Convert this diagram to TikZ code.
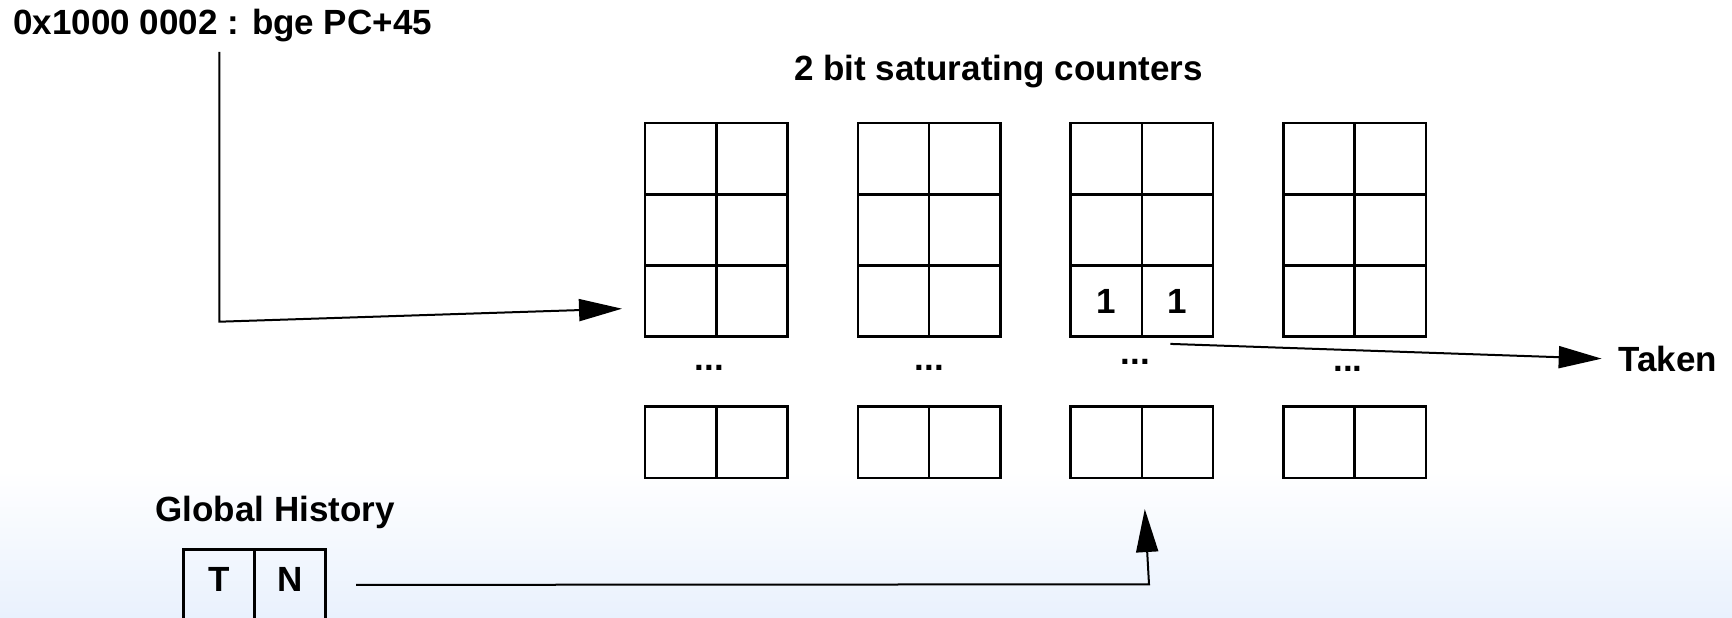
\documentclass[tikz,border=0pt]{standalone}
\usepackage{fontspec}
\setmainfont{Liberation Sans}
\usetikzlibrary{arrows.meta}
\definecolor{bgblue}{RGB}{233,241,253}
\tikzset{
    cellbox/.style={draw,line width=1.3pt,minimum width=35.6pt,minimum height=35.6pt,inner sep=0pt,font=\bfseries\fontsize{17.5}{21}\selectfont},
    histcell/.style={cellbox,text height=12pt,text depth=5.5pt},
    labeltext/.style={inner sep=0pt,font=\bfseries\fontsize{17.5}{21}\selectfont},
    flow/.style={line width=1pt,-{Triangle[length=21.5pt,width=11pt]}}
}
\def\DOTSPOS{1/709.3/368.3, 2/929.5/368.3, 3/1135.5/362.3, 4/1348/369.3}
\begin{document}
\begin{tikzpicture}[x=0.5pt,y=-0.5pt]

    % page frame and the fade to blue at the bottom
    \useasboundingbox (0,0) rectangle (1732,617);
    \clip (0,0) rectangle (1732,617);
    \shade[top color=white,bottom color=bgblue] (0,470) rectangle (1732,617);

    % four tables of 2 bit counters: three rows, a gap, one more row
    \foreach \i in {1,...,4} {
        \pgfmathsetmacro{\xl}{645+212.8*(\i-1)}
        \foreach \j in {1,2,3} {
            \foreach \k in {1,2} {
                \node[cellbox] (c-\i-\j-\k) at ({\xl+71.2*\k-35.6},{123+71.2*\j-35.6}) {};
            }
        }
        \foreach \k in {1,2} {
            \node[cellbox] (b-\i-\k) at ({\xl+71.2*\k-35.6},442.2) {};
        }
    }

    % the gap marks
    \foreach \i/\x/\y in \DOTSPOS {
        \node[labeltext] (d-\i) at (\x,\y) {...};
    }

    % counter value in the selected entry
    \node[labeltext] (bit-a) at (c-3-3-1) {1};
    \node[labeltext] (bit-b) at (c-3-3-2) {1};

    % texts
    \node[labeltext,anchor=base west] (pc) at (13,34) {0x1000 0002 : bge PC+45};
    \node[labeltext,anchor=base] (counters) at (998.5,80.7) {2 bit saturating counters};
    \node[labeltext,anchor=base west] (taken) at (1618,371.7) {Taken};
    \node[labeltext,anchor=base west] (ghist) at (155,521.7) {Global History};

    % global history register
    \node[histcell] (h-1) at (218.9,584.9) {T};
    \node[histcell] (h-2) at (290.1,584.9) {N};

    % bends of the connectors
    \coordinate (pcbend) at (219.3,321.7);
    \coordinate (pctop) at (pcbend |- pc.south);
    \coordinate (hbend) at (1149,584.3);

    % pc selects the row
    \draw[flow,shorten >=10.85pt] ([yshift=-5pt]pctop) -- (pcbend) -- ([yshift=-3.5pt]c-1-3-1.west);
    % prediction out
    \draw[flow,shorten >=8.15pt] ([xshift=-3.5pt,yshift=-3pt]c-3-3-2.south) -- (taken.west);
    % history selects the table
    \draw[flow,shorten <=14.6pt,shorten >=15pt] (h-2.east) -- (hbend) -- (b-3-1.south east);

\end{tikzpicture}
\end{document}
